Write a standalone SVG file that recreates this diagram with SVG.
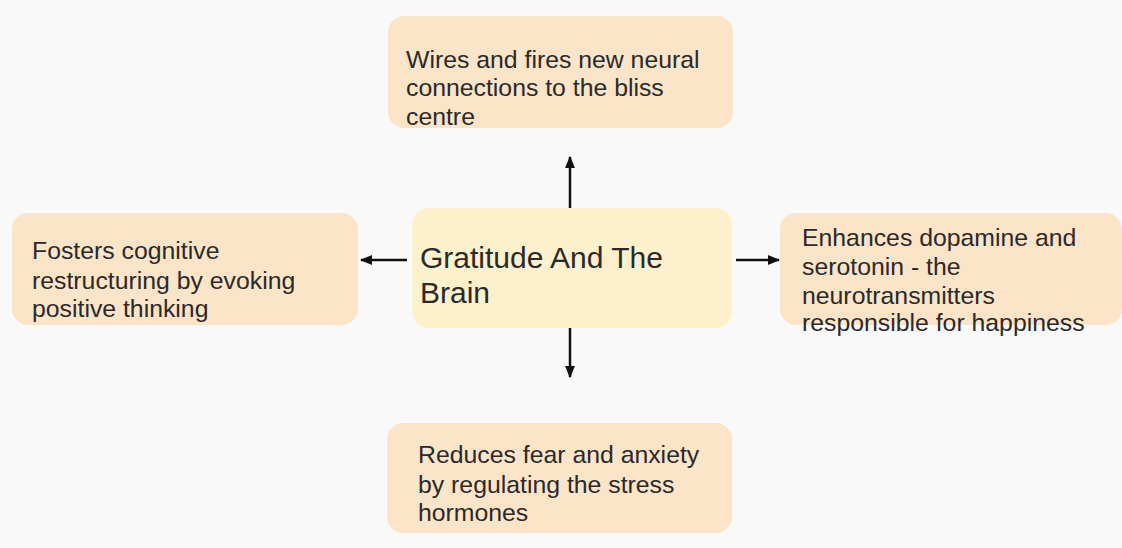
<svg xmlns="http://www.w3.org/2000/svg" width="1122" height="548" viewBox="0 0 1122 548">
<defs>
<style>
.box{fill:#fbe4c8;}
.center{fill:#fdf0cc;}
.t{font-family:"Liberation Sans",Arial,sans-serif;font-size:24.8px;fill:#2a2a2a;}
.tc{font-family:"Liberation Sans",Arial,sans-serif;font-size:30px;fill:#2a2a2a;}
.c{stroke:#111;stroke-width:2.5;fill:none;marker-end:url(#ah);}
</style>
<marker id="ah" viewBox="0 0 10 10" refX="9" refY="5" markerWidth="5" markerHeight="5" orient="auto" markerUnits="strokeWidth">
<path d="M0,1 L10,5 L0,9 Z" fill="#111"/>
</marker>
</defs>
<rect width="1122" height="548" fill="#f9f9f9"/>
<g id="connectors">
<line class="c" x1="570" y1="210" x2="570" y2="157"/>
<line class="c" x1="407" y1="260" x2="361" y2="260"/>
<line class="c" x1="736" y1="260" x2="779" y2="260"/>
<line class="c" x1="570" y1="328" x2="570" y2="377"/>
</g>
<g id="top">
<rect class="box" x="388" y="16" width="345" height="112" rx="16"/>
<text class="t" x="406" y="68">Wires and fires new neural</text>
<text class="t" x="406" y="96">connections to the bliss</text>
<text class="t" x="406" y="125">centre</text>
</g>
<g id="center">
<rect class="center" x="412" y="208" width="320" height="120" rx="16"/>
<text class="tc" x="420" y="268">Gratitude And The</text>
<text class="tc" x="420" y="303">Brain</text>
</g>
<g id="left">
<rect class="box" x="12" y="213" width="346" height="112" rx="16"/>
<text class="t" x="32" y="259">Fosters cognitive</text>
<text class="t" x="32" y="289">restructuring by evoking</text>
<text class="t" x="32" y="317">positive thinking</text>
</g>
<g id="right">
<rect class="box" x="780" y="213" width="342" height="112" rx="16"/>
<text class="t" x="802" y="246">Enhances dopamine and</text>
<text class="t" x="802" y="275">serotonin - the</text>
<text class="t" x="802" y="304">neurotransmitters</text>
<text class="t" x="802" y="331">responsible for happiness</text>
</g>
<g id="bottom">
<rect class="box" x="387" y="423" width="345" height="110" rx="16"/>
<text class="t" x="418" y="463">Reduces fear and anxiety</text>
<text class="t" x="418" y="493">by regulating the stress</text>
<text class="t" x="418" y="521">hormones</text>
</g>
</svg>
